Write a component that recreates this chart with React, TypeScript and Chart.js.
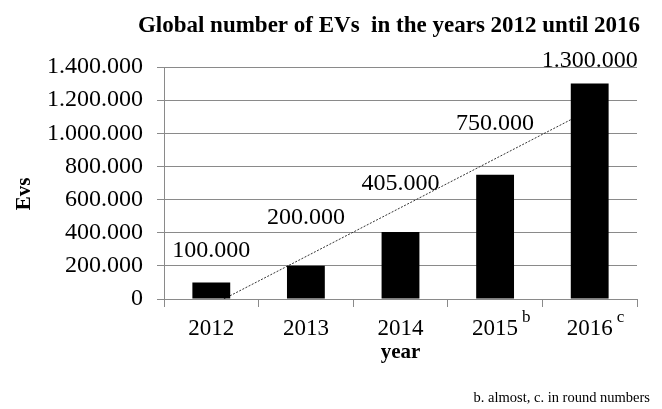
import React, { useEffect, useRef } from "react";
import { Chart, registerables } from "chart.js";

Chart.register(...registerables);

// ---- data ----
const categories = ["2012", "2013", "2014", "2015", "2016"];
const footnoteMarks = ["", "", "", "b", "c"];
const evValues = [100000, 200000, 405000, 750000, 1300000];
const trendValues = [-39000, null, null, null, 1141000];
const yTickValues = [0, 200000, 400000, 600000, 800000, 1000000, 1200000, 1400000];
const titleText = "Global number of EVs  in the years 2012 until 2016";
const yTitleText = "Evs";
const xTitleText = "year";
const footnoteText = "b. almost, c. in round numbers";

// ---- styles ----
const SERIF = "'Liberation Serif', 'Times New Roman', serif";
const labelLift = [25, 42, 42, 45, 17];

const fmt = (n: number) => String(Math.round(n)).replace(/\B(?=(\d{3})+(?!\d))/g, ".");

const extrasPlugin = {
  id: "extras",
  afterDatasetsDraw(chart: any) {
    const ctx = chart.ctx;
    const x = chart.scales.x;
    const y = chart.scales.y;
    ctx.save();
    ctx.fillStyle = "#000";
    // value labels
    ctx.font = `24px ${SERIF}`;
    ctx.textAlign = "center";
    ctx.textBaseline = "alphabetic";
    evValues.forEach((v, i) => {
      const px = x.getPixelForValue(i);
      const py = y.getPixelForValue(v);
      ctx.fillText(fmt(v), px, py - labelLift[i]);
    });
    // footnote marks on x labels
    ctx.font = `17px ${SERIF}`;
    ctx.textAlign = "left";
    footnoteMarks.forEach((m, i) => {
      if (!m) return;
      const px = x.getPixelForValue(i);
      ctx.fillText(m, px + 27, 322);
    });
    // title
    ctx.font = `bold 23px ${SERIF}`;
    ctx.textAlign = "center";
    ctx.fillText(titleText, 389, 32);
    // x title
    ctx.font = `bold 21px ${SERIF}`;
    ctx.fillText(xTitleText, (chart.chartArea.left + chart.chartArea.right) / 2, 358);
    // y title
    ctx.save();
    ctx.translate(30, 194);
    ctx.rotate(-Math.PI / 2);
    ctx.textBaseline = "alphabetic";
    ctx.fillText(yTitleText, 0, 0);
    ctx.restore();
    // footnote
    ctx.font = `14.5px ${SERIF}`;
    ctx.textAlign = "right";
    ctx.fillText(footnoteText, 650, 402);
    ctx.restore();
  },
};

export default function App() {
  const ref = useRef<HTMLCanvasElement | null>(null);
  useEffect(() => {
    if (!ref.current) return;
    const chart = new Chart(ref.current, {
      type: "bar",
      data: {
        labels: categories,
        datasets: [
          {
            type: "bar",
            label: "EVs",
            data: evValues,
            backgroundColor: "#000",
            borderWidth: 0,
            barPercentage: 0.4,
            categoryPercentage: 1,
            order: 0,
          },
          {
            type: "line",
            label: "Trend",
            data: trendValues as any,
            spanGaps: true,
            borderColor: "#333",
            borderWidth: 1,
            borderDash: [2, 1.5],
            pointRadius: 0,
            fill: false,
            order: 1,
          },
        ],
      },
      options: {
        responsive: false,
        animation: false,
        devicePixelRatio: 1,
        layout: { padding: { top: 67, right: 25, bottom: 0, left: 0 } },
        plugins: {
          legend: { display: false },
          tooltip: { enabled: false },
          title: { display: false },
        },
        scales: {
          x: {
            type: "category",
            grid: {
              offset: true,
              drawOnChartArea: false,
              drawTicks: true,
              tickLength: 8,
              color: "#8a8a8a",
            },
            border: { display: true, color: "#8a8a8a", width: 1 },
            ticks: {
              color: "#000",
              font: { family: SERIF, size: 23 },
              padding: 8,
              maxRotation: 0,
            },
            afterFit: (s: any) => {
              s.height = 110;
            },
          },
          y: {
            min: 0,
            max: 1400000,
            afterBuildTicks: (s: any) => {
              s.ticks = yTickValues.map((v) => ({ value: v }));
            },
            grid: { color: "#8a8a8a", tickLength: 7, lineWidth: 1 },
            border: { display: true, color: "#8a8a8a", width: 1 },
            ticks: {
              color: "#000",
              font: { family: SERIF, size: 24 },
              padding: 14,
              callback: (v: any) => fmt(Number(v)),
            },
            afterFit: (s: any) => {
              s.width = 164;
            },
          },
        },
      },
      plugins: [extrasPlugin],
    });
    return () => chart.destroy();
  }, []);
  return (
    <div style={{ position: "fixed", left: 0, top: 0, width: 662, height: 409, background: "#fff" }}>
      <canvas ref={ref} width={662} height={409} style={{ width: 662, height: 409 }} />
    </div>
  );
}
